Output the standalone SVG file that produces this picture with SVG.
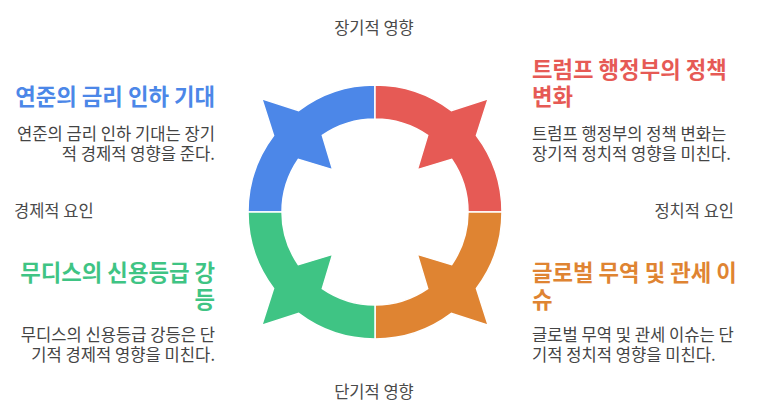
<svg xmlns="http://www.w3.org/2000/svg" width="778" height="414" viewBox="0 0 778 414">
<style>
text{font-family:"Noto Sans CJK KR","Noto Sans",sans-serif;}
.t{font-size:22.3px;font-weight:700;}
.b{font-size:16.6px;fill:#444;}
.l{font-size:16.5px;fill:#4a4a4a;}
.seg{stroke:#fff;stroke-width:1.5;stroke-linejoin:miter;}
</style>
<defs>
<path id="q" d="M -127 0 A 127 127 0 0 1 -101.4 -76.4 L -113.1 -113.1 L -76.4 -101.4 A 127 127 0 0 1 0 -127 L 0 -93 A 93 93 0 0 0 -52.7 -76.6 L -42.4 -42.4 L -76.6 -52.7 A 93 93 0 0 0 -93 0 Z"/>
</defs>
<rect width="778" height="414" fill="#fff"/>
<g id="connectors">
<use href="#q" class="seg" fill="#4C87E8" transform="translate(375,212)"/>
<use href="#q" class="seg" fill="#E65A55" transform="translate(375,212) rotate(90)"/>
<use href="#q" class="seg" fill="#DF8432" transform="translate(375,212) rotate(180)"/>
<use href="#q" class="seg" fill="#3FC484" transform="translate(375,212) rotate(270)"/>
</g>
<g id="axis-labels">
<text class="l" x="374" y="34" text-anchor="middle">장기적 영향</text>
<text class="l" x="374" y="398" text-anchor="middle">단기적 영향</text>
<text class="l" x="14" y="217">경제적 요인</text>
<text class="l" x="734" y="217" text-anchor="end">정치적 요인</text>
</g>
<g id="node-fed">
<text class="t" x="215" y="105" text-anchor="end" fill="#4C87E8">연준의 금리 인하 기대</text>
<text class="b" x="215" y="140" text-anchor="end">연준의 금리 인하 기대는 장기</text>
<text class="b" x="215" y="160" text-anchor="end">적 경제적 영향을 준다.</text>
</g>
<g id="node-trump">
<text class="t" x="532" y="78" fill="#E65A55">트럼프 행정부의 정책</text>
<text class="t" x="532" y="105" fill="#E65A55">변화</text>
<text class="b" x="532" y="140">트럼프 행정부의 정책 변화는</text>
<text class="b" x="532" y="160">장기적 정치적 영향을 미친다.</text>
</g>
<g id="node-moodys">
<text class="t" x="215" y="281" text-anchor="end" fill="#3FC484">무디스의 신용등급 강</text>
<text class="t" x="215" y="308" text-anchor="end" fill="#3FC484">등</text>
<text class="b" x="215" y="341" text-anchor="end">무디스의 신용등급 강등은 단</text>
<text class="b" x="215" y="361" text-anchor="end">기적 경제적 영향을 미친다.</text>
</g>
<g id="node-trade">
<text class="t" x="532" y="281" fill="#DF8432">글로벌 무역 및 관세 이</text>
<text class="t" x="532" y="308" fill="#DF8432">슈</text>
<text class="b" x="532" y="341">글로벌 무역 및 관세 이슈는 단</text>
<text class="b" x="532" y="361">기적 정치적 영향을 미친다.</text>
</g>
</svg>
